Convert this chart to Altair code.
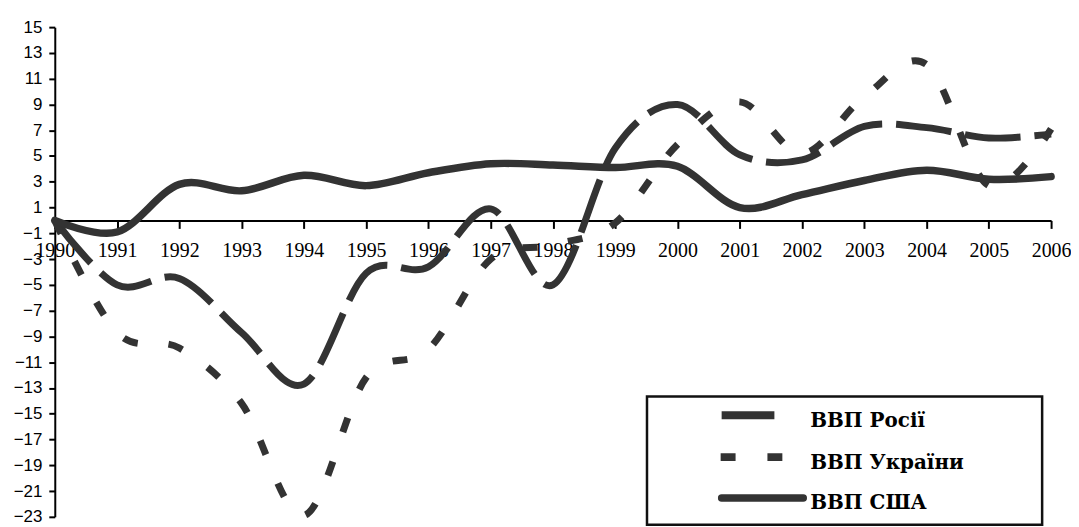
import altair as alt
import pandas as pd

# ---- data ----
years = list(range(1990, 2007))
russia = [0, -5.0, -4.5, -8.7, -12.7, -4.1, -3.6, 0.9, -5.0, 5.6, 9.0, 5.1, 4.7, 7.3, 7.2, 6.4, 6.7]
ukraine = [0, -8.7, -9.9, -14.2, -22.9, -12.2, -10.0, -3.0, -1.9, -0.2, 5.9, 9.2, 5.2, 9.6, 12.1, 2.7, 7.1]
usa = [0, -0.9, 2.8, 2.3, 3.5, 2.7, 3.7, 4.4, 4.3, 4.1, 4.2, 1.0, 2.0, 3.1, 3.9, 3.2, 3.4]
names = ["ВВП Росії", "ВВП України", "ВВП США"]
y_ticks = list(range(-23, 16, 2))

# ---- layout ----
W, H = 1001, 492
Y_MIN, Y_MAX = -23, 15
LINE = "#333333"
SANS = "Liberation Sans"
SERIF = "Liberation Serif"
LEGEND_FONT = "DejaVu Serif"

rows = []
for name, vals in zip(names, [russia, ukraine, usa]):
    for yr, v in zip(years, vals):
        rows.append({"year": yr, "value": v, "series": name})
df = pd.DataFrame(rows)

zero_offset = -H * (0 - Y_MIN) / (Y_MAX - Y_MIN)

x_enc = alt.X(
    "year:Q",
    scale=alt.Scale(domain=[1990, 2006], nice=False, zero=False),
    axis=alt.Axis(
        values=years, format="d", title=None, orient="bottom", offset=zero_offset,
        labelFont=SERIF, labelFontSize=20, labelColor="black", labelFlush=False,
        labelOverlap=False, labelPadding=12, tickSize=8, tickWidth=2, tickColor="black",
        domainWidth=2, domainColor="black", grid=False,
    ),
)
y_enc = alt.Y(
    "value:Q",
    scale=alt.Scale(domain=[Y_MIN, Y_MAX], nice=False, zero=False),
    axis=alt.Axis(
        values=y_ticks, title=None, labelFont=SANS, labelFontSize=17, labelColor="black",
        labelPadding=7, tickSize=6, tickWidth=2, tickColor="black",
        domainWidth=2, domainColor="black", grid=False, labelOverlap=False,
    ),
)

base = alt.Chart(df).encode(x=x_enc, y=y_enc)

russia_line = base.transform_filter(alt.datum.series == names[0]).mark_line(
    interpolate="cardinal", color=LINE, strokeWidth=7, strokeDash=[56, 14], strokeCap="butt"
)
ukraine_line = base.transform_filter(alt.datum.series == names[1]).mark_line(
    interpolate="cardinal", color=LINE, strokeWidth=7, strokeDash=[15, 31], strokeCap="butt"
)
usa_line = base.transform_filter(alt.datum.series == names[2]).mark_line(
    interpolate="cardinal", color=LINE, strokeWidth=7.5, strokeCap="round", strokeJoin="round"
)

# ---- legend (drawn by hand to match the boxed Excel legend) ----
def single(label):
    return alt.Chart(pd.DataFrame({"label": [label]}))

legend_box = single("box").mark_rect(fill="white", stroke="#111111", strokeWidth=2.5).encode(
    x=alt.value(595), x2=alt.value(992), y=alt.value(371), y2=alt.value(500)
)
sym_ru = single(names[0]).mark_rule(color=LINE, strokeWidth=8, strokeCap="butt").encode(
    x=alt.value(670), x2=alt.value(723), y=alt.value(390)
)
sym_ua = single(names[1]).mark_rule(color=LINE, strokeWidth=8, strokeCap="butt", strokeDash=[15, 32]).encode(
    x=alt.value(669), x2=alt.value(731), y=alt.value(432)
)
sym_us = single(names[2]).mark_rule(color=LINE, strokeWidth=7.5, strokeCap="round").encode(
    x=alt.value(670), x2=alt.value(752), y=alt.value(473)
)

def legend_label(label, ypos):
    return single(label).mark_text(
        align="left", baseline="alphabetic", font=LEGEND_FONT, fontSize=20, fontWeight="bold", color="black"
    ).encode(x=alt.value(759), y=alt.value(ypos), text="label:N")

txt_ru = legend_label(names[0], 402)
txt_ua = legend_label(names[1], 444)
txt_us = legend_label(names[2], 484)

chart = alt.layer(
    russia_line, ukraine_line, usa_line, legend_box, sym_ru, sym_ua, sym_us, txt_ru, txt_ua, txt_us
).properties(
    width=W, height=H, autosize="none",
    padding={"left": 47, "top": 18, "right": 20, "bottom": 9},
    background="white",
).configure_view(stroke=None)

chart.save("out.html", embed_options={"renderer": "svg", "actions": False})
